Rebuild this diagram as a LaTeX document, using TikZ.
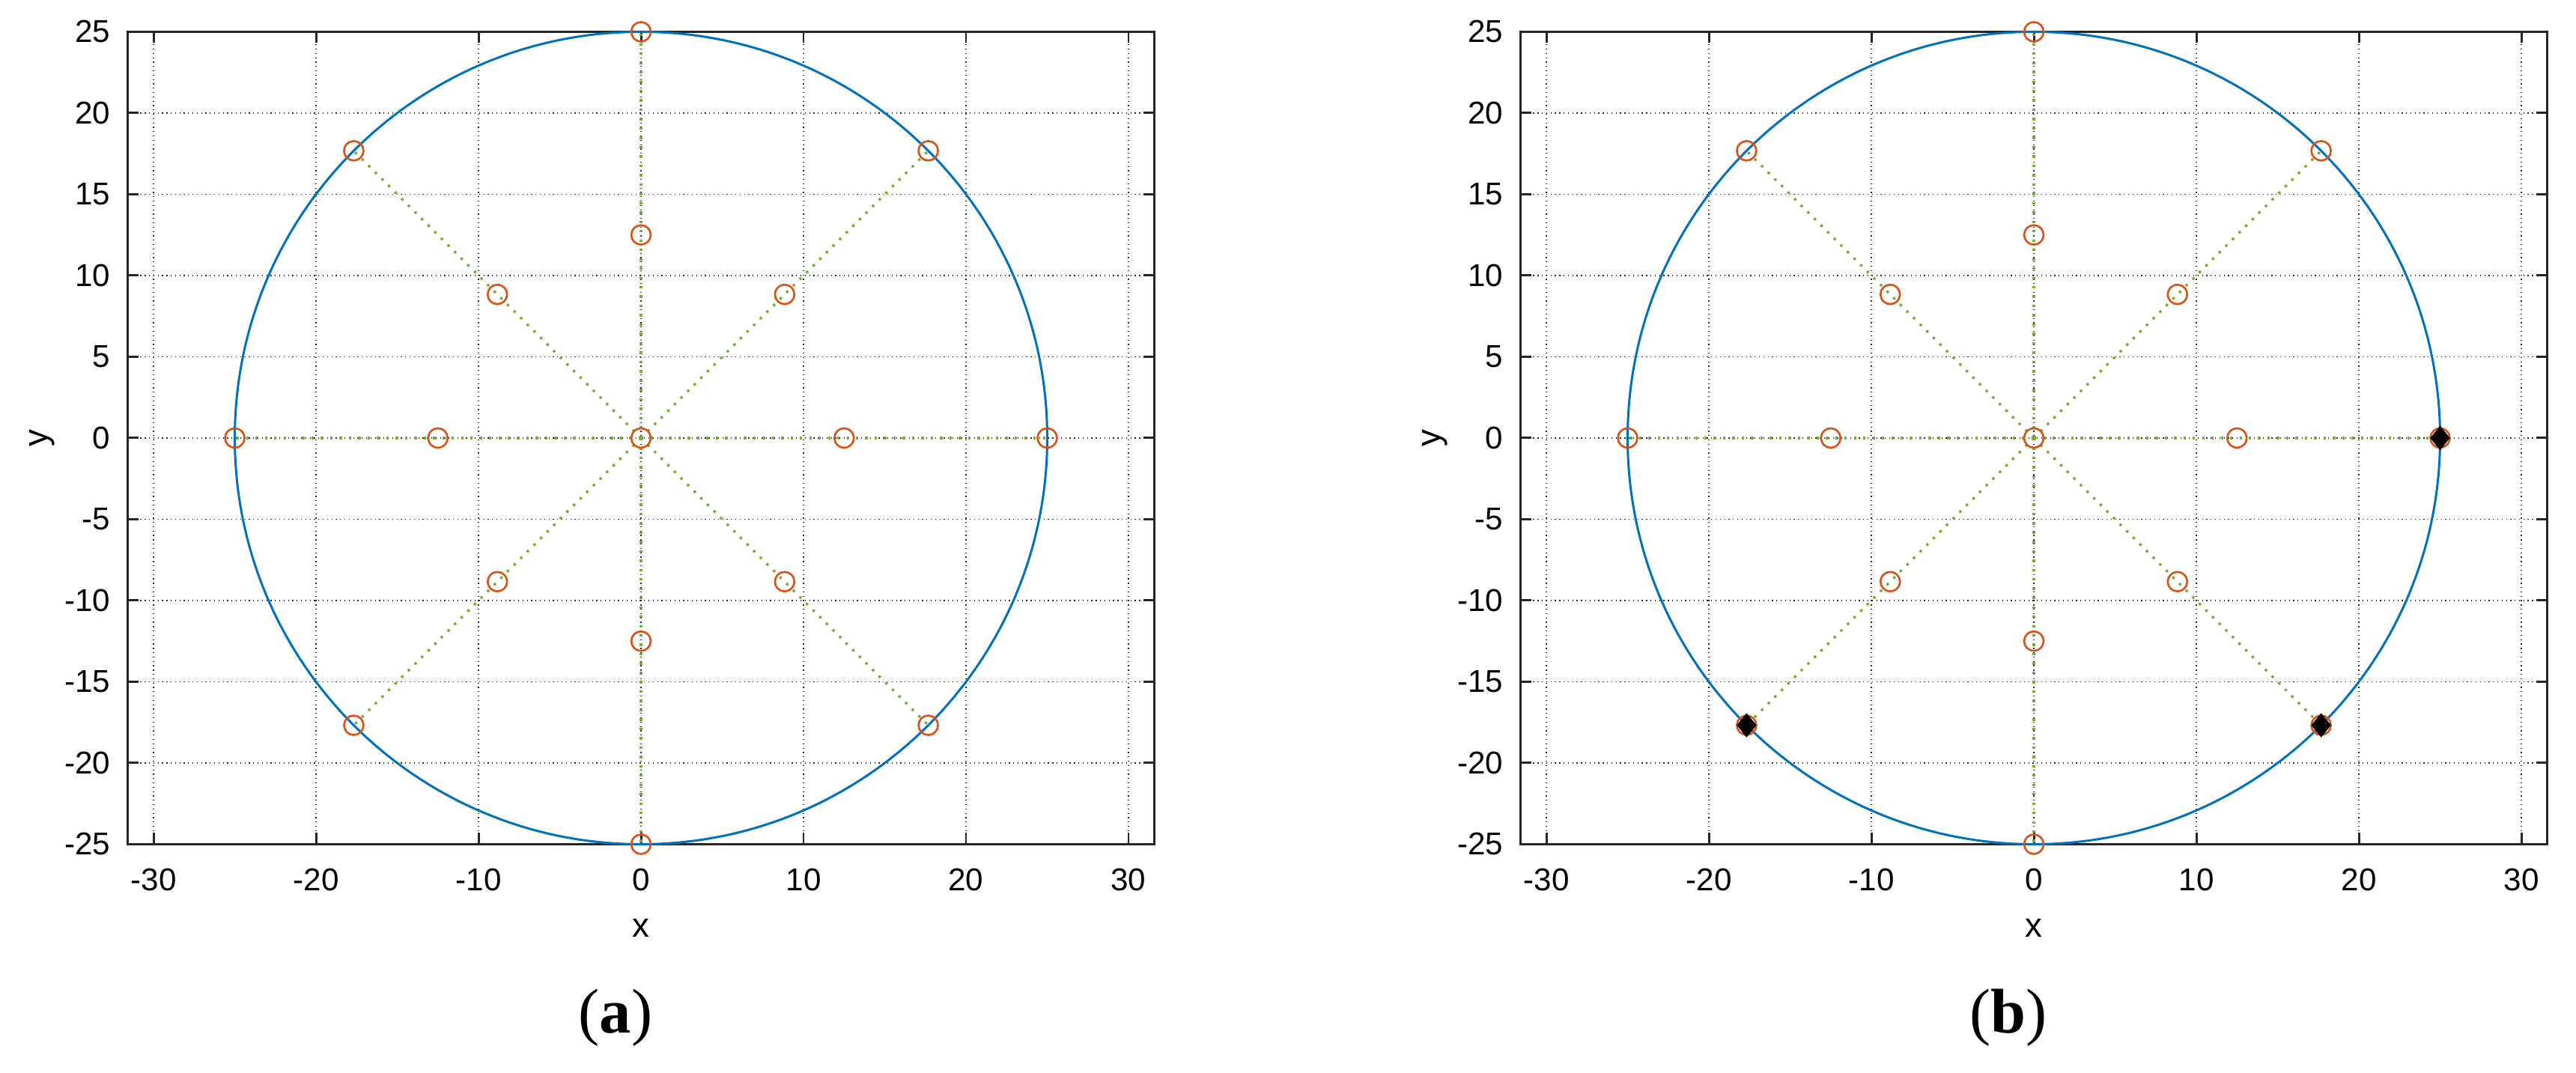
\documentclass[tikz,border=0pt]{standalone}
\usepackage{fontspec}
\setmainfont{Liberation Sans}
\newfontfamily\capfont{Liberation Serif}
\usetikzlibrary{shapes.geometric}
\definecolor{mblue}{RGB}{0,114,189}
\definecolor{morange}{RGB}{217,83,25}
\definecolor{mgreen}{RGB}{119,172,48}
\definecolor{maxis}{RGB}{38,38,38}
\tikzset{
  axisline/.style={draw=maxis, line width=0.85pt},
  tickmark/.style={draw=maxis, line width=0.85pt},
  gridline/.style={draw=black!85, line width=0.35pt, dash pattern=on 0.35pt off 1.3pt},
  ticklabel/.style={font=\fontsize{12}{14}\selectfont, inner sep=0pt, text=black},
  axlabel/.style={font=\fontsize{13}{15}\selectfont, inner sep=0pt, text=black},
  caption/.style={font=\capfont\fontsize{24}{28}\selectfont, inner sep=0pt, text=black},
  ring/.style={draw=morange, line width=0.75pt, circle, minimum size=0.26cm, inner sep=0pt},
  spoke/.style={draw=mgreen, line width=0.95pt, dash pattern=on 0.95pt off 2.6pt},
  bigcircle/.style={draw=mblue, line width=0.85pt},
  hit/.style={fill=black, draw=none, diamond, minimum width=0.27cm, minimum height=0.33cm, inner sep=0pt},
}
\newcommand{\plotpanel}[3]{%
  % #1 = x origin (cm), #2 = panel prefix, #3 = caption letter
  \begin{scope}[shift={(#1,8.48)}, x=0.217cm, y=0.217cm]
    % grid
    \foreach \gx in {-30,-20,...,30} {\draw[gridline] (\gx,-25) -- (\gx,25);}
    \foreach \gy in {-20,-15,...,20} {\draw[gridline] (-31.61,\gy) -- (31.61,\gy);}
    % axes box
    \draw[axisline] (-31.61,-25) rectangle (31.61,25);
    % ticks
    \foreach \gx in {-30,-20,...,30} {
      \draw[tickmark] (\gx,-25) -- (\gx,-24.31);
      \draw[tickmark] (\gx,25) -- (\gx,24.31);
      \node[ticklabel] (#2-xt\gx) at (\gx,-27.2) {\gx};
    }
    \foreach \gy in {-25,-20,...,25} {
      \draw[tickmark] (-31.61,\gy) -- (-30.92,\gy);
      \draw[tickmark] (31.61,\gy) -- (30.92,\gy);
      \node[ticklabel, anchor=east] (#2-yt\gy) at (-32.63,\gy) {\gy};
    }
    \node[axlabel] (#2-xlab) at (0,-30.14) {x};
    \node[axlabel, rotate=90] (#2-ylab) at (-36.87,0) {y};
    % circle
    \draw[bigcircle] (0,0) circle (25);
    % points
    \coordinate (#2-c) at (0,0);
    \foreach \a in {0,45,...,315} {
      \coordinate (#2-m\a) at (\a:12.5);
      \coordinate (#2-o\a) at (\a:25);
    }
    \foreach \a in {0,45,...,315} {\draw[spoke] (#2-c) -- (#2-o\a);}
    \node[ring] (#2-rc) at (#2-c) {};
    \foreach \a in {0,45,...,315} {
      \node[ring] (#2-rm\a) at (#2-m\a) {};
      \node[ring] (#2-ro\a) at (#2-o\a) {};
    }
    \node[caption] (#2-cap) at (-1.57,-35.7) {(\textbf{#3})};
  \end{scope}%
}
\begin{document}
\begin{tikzpicture}
  \useasboundingbox[fill=white] (0,0) rectangle (34.4,14.33);
  \plotpanel{8.56}{pa}{a}
  \plotpanel{27.16}{pb}{b}
  \begin{scope}[shift={(27.16,8.48)}, x=0.217cm, y=0.217cm]
    \node[hit] (pb-h0) at (pb-o0) {};
    \node[hit] (pb-h225) at (pb-o225) {};
    \node[hit] (pb-h315) at (pb-o315) {};
  \end{scope}
\end{tikzpicture}
\end{document}
